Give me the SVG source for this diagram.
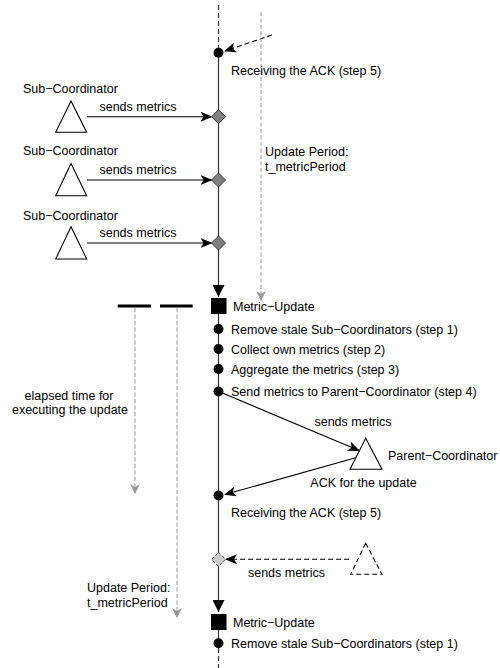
<svg xmlns="http://www.w3.org/2000/svg" width="500" height="668" viewBox="0 0 500 668">
<style>
text{font-family:"Liberation Sans",Arial,sans-serif;font-size:12.5px;fill:#000}
.tl{stroke:#333;stroke-width:1.2;fill:none}
.tld{stroke:#333;stroke-width:1.2;fill:none;stroke-dasharray:5,3}
.msg{stroke:#000;stroke-width:1.1;fill:none}
.msgd{stroke:#000;stroke-width:1.1;fill:none;stroke-dasharray:5,3}
.per{stroke:#aaa;stroke-width:1.2;fill:none;stroke-dasharray:4,2.5}
.tri{fill:#fff;stroke:#000;stroke-width:1.1}
.trid{fill:#fff;stroke:#000;stroke-width:1.1;stroke-dasharray:5,3}
.dia{fill:#808080;stroke:#333;stroke-width:1}
.diad{fill:#ccc;stroke:#333;stroke-width:1;stroke-dasharray:3,2}
.mid{text-anchor:middle}
</style>
<defs>
<marker id="ah" viewBox="0 0 12 10" refX="11" refY="5" markerWidth="12" markerHeight="10" markerUnits="userSpaceOnUse" orient="auto">
<path d="M0,0 L12,5 L0,10 L3,5 Z" fill="#000"/>
</marker>
<marker id="ahg" viewBox="0 0 10 10" refX="9" refY="5" markerWidth="10" markerHeight="10" markerUnits="userSpaceOnUse" orient="auto">
<path d="M0,0 L10,5 L0,10 L3,5 Z" fill="#999"/>
</marker>
<marker id="ahf" viewBox="0 0 12 12" refX="12" refY="6" markerWidth="12" markerHeight="12" markerUnits="userSpaceOnUse" orient="auto">
<path d="M0,0 L12,6 L0,12 Z" fill="#000"/>
</marker>
</defs>

<g id="connectors">
<line class="tld" x1="218.5" y1="5" x2="218.5" y2="48"/>
<line class="tl" x1="218.5" y1="53" x2="218.5" y2="297" marker-end="url(#ahf)"/>
<line class="tl" x1="218.5" y1="314" x2="218.5" y2="612" marker-end="url(#ahf)"/>
<line class="tl" x1="218.5" y1="630" x2="218.5" y2="643"/>
<line class="tld" x1="218.5" y1="648" x2="218.5" y2="668"/>
<line class="msgd" x1="272" y1="35" x2="225" y2="51" marker-end="url(#ah)"/>
<line class="msg" x1="87" y1="116.7" x2="211.5" y2="116.7" marker-end="url(#ah)"/>
<line class="msg" x1="87" y1="180" x2="211.5" y2="180" marker-end="url(#ah)"/>
<line class="msg" x1="87" y1="243" x2="211.5" y2="243" marker-end="url(#ah)"/>
<line class="msg" x1="220" y1="392" x2="359" y2="450.5" marker-end="url(#ah)"/>
<line class="msg" x1="356.5" y1="457.5" x2="225" y2="494.5" marker-end="url(#ah)"/>
<line class="msgd" x1="349" y1="559.3" x2="226" y2="559.3" marker-end="url(#ah)"/>
<line class="per" x1="261" y1="12" x2="261" y2="300" marker-end="url(#ahg)"/>
<line class="per" x1="135" y1="308" x2="135" y2="493" marker-end="url(#ahg)"/>
<line class="per" x1="177" y1="308" x2="177" y2="617" marker-end="url(#ahg)"/>
<line x1="117.7" y1="306" x2="151" y2="306" stroke="#000" stroke-width="3.2"/>
<line x1="160" y1="306" x2="192.7" y2="306" stroke="#000" stroke-width="3.2"/>
</g>

<g id="ack-top">
<circle cx="218.5" cy="52.7" r="5"/>
<text x="231" y="74.5">Receiving the ACK (step 5)</text>
</g>
<g id="period-right">
<text x="265" y="156">Update Period:</text>
<text x="265" y="171">t_metricPeriod</text>
</g>

<g id="sub1">
<text x="23" y="92.5">Sub−Coordinator</text>
<polygon class="tri" points="71,101 55.7,132.3 86.7,132.3"/>
<text class="mid" x="138" y="110.5">sends metrics</text>
<polygon class="dia" points="218.5,109.7 225.5,116.7 218.5,123.7 211.5,116.7"/>
</g>
<g id="sub2">
<text x="23" y="155">Sub−Coordinator</text>
<polygon class="tri" points="71,163.5 55.7,195.7 86.7,195.7"/>
<text class="mid" x="138" y="173.5">sends metrics</text>
<polygon class="dia" points="218.5,173 225.5,180 218.5,187 211.5,180"/>
</g>
<g id="sub3">
<text x="23" y="219.5">Sub−Coordinator</text>
<polygon class="tri" points="71,226.7 55.7,259 86.7,259"/>
<text class="mid" x="138" y="236.5">sends metrics</text>
<polygon class="dia" points="218.5,236 225.5,243 218.5,250 211.5,243"/>
</g>

<g id="update1">
<rect x="211" y="298" width="15.5" height="16" fill="#000"/>
<text x="233" y="310.5">Metric−Update</text>
</g>
<g id="step1">
<circle cx="218.5" cy="329" r="5"/>
<text x="231" y="333.5">Remove stale Sub−Coordinators (step 1)</text>
</g>
<g id="step2">
<circle cx="218.5" cy="349" r="5"/>
<text x="231" y="353.5">Collect own metrics (step 2)</text>
</g>
<g id="step3">
<circle cx="218.5" cy="369" r="5"/>
<text x="231" y="373.5">Aggregate the metrics (step 3)</text>
</g>
<g id="step4">
<circle cx="218.5" cy="391.5" r="5"/>
<text x="231" y="395.5">Send metrics to Parent−Coordinator (step 4)</text>
</g>
<g id="elapsed">
<text class="mid" x="69" y="399.5">elapsed time for</text>
<text class="mid" x="70" y="413.5">executing the update</text>
</g>

<g id="parent">
<text class="mid" x="353" y="425.5">sends metrics</text>
<polygon class="tri" points="365.7,438.3 350,469.3 382,469.3"/>
<text x="388" y="459.5">Parent−Coordinator</text>
<text class="mid" x="363.5" y="486.5">ACK for the update</text>
</g>
<g id="step5">
<circle cx="218.5" cy="495.5" r="5"/>
<text x="231" y="516.5">Receiving the ACK (step 5)</text>
</g>

<g id="future-sub">
<polygon class="diad" points="218.5,552.3 225.5,559.3 218.5,566.3 211.5,559.3"/>
<polygon class="trid" points="365.7,543.3 350.7,574.3 382,574.3"/>
<text class="mid" x="286.5" y="576.5">sends metrics</text>
</g>
<g id="period-left">
<text x="87" y="591.5">Update Period:</text>
<text x="87" y="606.5">t_metricPeriod</text>
</g>

<g id="update2">
<rect x="211" y="614" width="15.5" height="16" fill="#000"/>
<text x="233" y="626.5">Metric−Update</text>
</g>
<g id="step1b">
<circle cx="218.5" cy="643.3" r="5"/>
<text x="231" y="647.5">Remove stale Sub−Coordinators (step 1)</text>
</g>
</svg>
